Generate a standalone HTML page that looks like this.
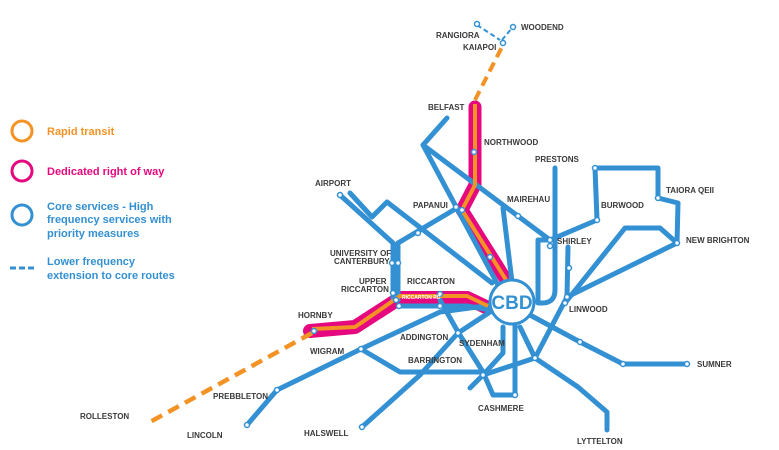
<!DOCTYPE html>
<html><head><meta charset="utf-8"><style>
html,body{margin:0;padding:0;background:#fff;}
svg{display:block;font-family:"Liberation Sans",sans-serif;}
.lb{font-size:8px;font-weight:bold;fill:#3a3a3a;}
.b{stroke:#3390d2;stroke-width:5;fill:none;stroke-linejoin:round;stroke-linecap:round;}
.n{fill:#fff;stroke:#3390d2;stroke-width:1.5;}
.lg{font-size:11px;font-weight:bold;}
</style></head><body>
<svg width="779" height="450" viewBox="0 0 779 450">
<!-- legend -->
<circle cx="22" cy="131" r="10" fill="none" stroke="#f39325" stroke-width="3"/>
<text x="47" y="135" class="lg" fill="#f39325">Rapid transit</text>
<circle cx="22" cy="171" r="10" fill="none" stroke="#e5087e" stroke-width="3"/>
<text x="47" y="175" class="lg" fill="#e5087e">Dedicated right of way</text>
<circle cx="22" cy="215" r="10" fill="none" stroke="#3390d2" stroke-width="3"/>
<text x="47" y="210" class="lg" fill="#3390d2">Core services - High</text>
<text x="47" y="223" class="lg" fill="#3390d2">frequency services with</text>
<text x="47" y="237" class="lg" fill="#3390d2">priority measures</text>
<line x1="10" y1="268" x2="36" y2="268" stroke="#3390d2" stroke-width="3" stroke-dasharray="6,3"/>
<text x="47" y="265" class="lg" fill="#3390d2">Lower frequency</text>
<text x="47" y="279" class="lg" fill="#3390d2">extension to core routes</text>

<!-- magenta bands -->
<path d="M475,107 L475,185 L462,210 L508,283" stroke="#e5087e" stroke-width="13" fill="none" stroke-linejoin="round" stroke-linecap="round"/>
<path d="M488,308 L467,298 L400,298 L355,327 L310,331" stroke="#e5087e" stroke-width="14" fill="none" stroke-linejoin="round" stroke-linecap="round"/>

<!-- blue lines -->
<g class="b">
<path d="M447,118 L423,145 L498,285"/>
<path d="M423,145 L550,240 L597,220 L595,168 L658,168 L658,198 L678,203 L677,243 L567,297"/>
<path d="M555,168 L555,290 Q555,303 542,303 L538,303 L538,240 L550,240"/>
<path d="M568,247 L567,297 L535,358 L483,375 L470,388"/>
<path d="M565,303 L625,228 L660,228 L677,243"/>
<path d="M340,195 L393,243 L393,300"/>
<path d="M350,193 L372,217 L387,202 L492,283"/>
<path d="M398,243 L398,300"/>
<path d="M398,243 L457,208"/>
<path d="M503,208 L512,282"/>
<path d="M400,306 L467,306 L490,310"/>
<path d="M247,425 L277,390 L361,349 L440,312 L492,305"/>
<path d="M361,349 L400,372 L483,372 L493,395 L515,395 L515,322"/>
<path d="M362,427 L420,375 L458,333 L490,312"/>
<path d="M440,300 L458,332 L483,372"/>
<path d="M503,327 L503,353 L483,375"/>
<path d="M520,327 L535,358 L578,387 L607,412 L607,430"/>
<path d="M530,315 L580,342 L623,364 L687,364"/>
</g>
<!-- orange -->
<path d="M475,104 L475,185 L462,210 L508,283" stroke="#f39325" stroke-width="4" fill="none" stroke-linejoin="round"/>
<path d="M488,306 L467,296 L400,296 L355,327 L312,329" stroke="#f39325" stroke-width="4" fill="none" stroke-linejoin="round"/>
<path d="M475,100 L503,45" stroke="#f39325" stroke-width="4" stroke-dasharray="10,6" fill="none"/>
<path d="M312,333 L150,422" stroke="#f39325" stroke-width="4.5" stroke-dasharray="12,7" fill="none"/>
<path d="M477,25 L500,40 M502,40 L512,28" stroke="#3390d2" stroke-width="2" stroke-dasharray="5,3" fill="none"/>
<!-- CBD -->
<circle cx="512" cy="302" r="22" fill="#fff" stroke="#3390d2" stroke-width="3"/>
<text x="512" y="309" text-anchor="middle" font-size="19" font-weight="bold" fill="#3390d2">CBD</text>
<!-- nodes -->
<g class="n">
<circle cx="477" cy="24" r="2.5"/><circle cx="513" cy="27" r="2.5"/><circle cx="503" cy="43" r="2.5"/>
<circle cx="474" cy="152" r="2.5"/><circle cx="456" cy="207" r="2.5"/><circle cx="462" cy="210" r="2.5"/>
<circle cx="490" cy="257" r="2.5"/><circle cx="518" cy="216" r="2.5"/><circle cx="340" cy="195" r="2.5"/>
<circle cx="418" cy="233" r="2.5"/><circle cx="392" cy="263" r="2.5"/><circle cx="398" cy="263" r="2.5"/>
<circle cx="393" cy="293" r="2.5"/><circle cx="396" cy="300" r="2.5"/><circle cx="399" cy="306" r="2.5"/>
<circle cx="440" cy="294" r="2.5"/><circle cx="440" cy="306" r="2.5"/><circle cx="314" cy="331" r="2.5"/>
<circle cx="361" cy="349" r="2.5"/><circle cx="277" cy="390" r="2.5"/><circle cx="247" cy="425" r="2.5"/>
<circle cx="362" cy="427" r="2.5"/><circle cx="458" cy="333" r="2.5"/><circle cx="483" cy="375" r="2.5"/>
<circle cx="515" cy="395" r="2.5"/><circle cx="535" cy="358" r="2.5"/><circle cx="580" cy="342" r="2.5"/>
<circle cx="623" cy="364" r="2.5"/><circle cx="687" cy="364" r="2.5"/><circle cx="550" cy="240" r="2.5"/>
<circle cx="550" cy="246" r="2.5"/><circle cx="597" cy="220" r="2.5"/><circle cx="595" cy="168" r="2.5"/>
<circle cx="658" cy="198" r="2.5"/><circle cx="677" cy="243" r="2.5"/><circle cx="569" cy="268" r="2.5"/>
<circle cx="567" cy="297" r="2.5"/><circle cx="565" cy="303" r="2.5"/>
</g>
<!-- labels -->
<g class="lb">
<text x="436" y="38">RANGIORA</text><text x="521" y="30">WOODEND</text><text x="463" y="50">KAIAPOI</text>
<text x="428" y="110">BELFAST</text><text x="484" y="145">NORTHWOOD</text><text x="535" y="162">PRESTONS</text>
<text x="315" y="186">AIRPORT</text><text x="413" y="208">PAPANUI</text><text x="507" y="202">MAIREHAU</text>
<text x="601" y="208">BURWOOD</text><text x="666" y="193">TAIORA QEII</text><text x="686" y="243">NEW BRIGHTON</text>
<text x="557" y="244">SHIRLEY</text><text x="330" y="256">UNIVERSITY OF</text><text x="334" y="264">CANTERBURY</text>
<text x="359" y="284">UPPER</text><text x="341" y="292">RICCARTON</text><text x="407" y="284">RICCARTON</text>
<text x="569" y="312">LINWOOD</text><text x="298" y="318">HORNBY</text><text x="310" y="354">WIGRAM</text>
<text x="400" y="340">ADDINGTON</text><text x="459" y="346">SYDENHAM</text><text x="408" y="363">BARRINGTON</text>
<text x="697" y="367">SUMNER</text><text x="213" y="399">PREBBLETON</text><text x="478" y="411">CASHMERE</text>
<text x="80" y="419">ROLLESTON</text><text x="187" y="438">LINCOLN</text><text x="304" y="436">HALSWELL</text>
<text x="577" y="444">LYTTELTON</text>
</g>
<g font-size="5" font-weight="bold" fill="#fff">
<text x="402" y="299">RICCARTON RD</text>
</g>
</svg>
</body></html>
